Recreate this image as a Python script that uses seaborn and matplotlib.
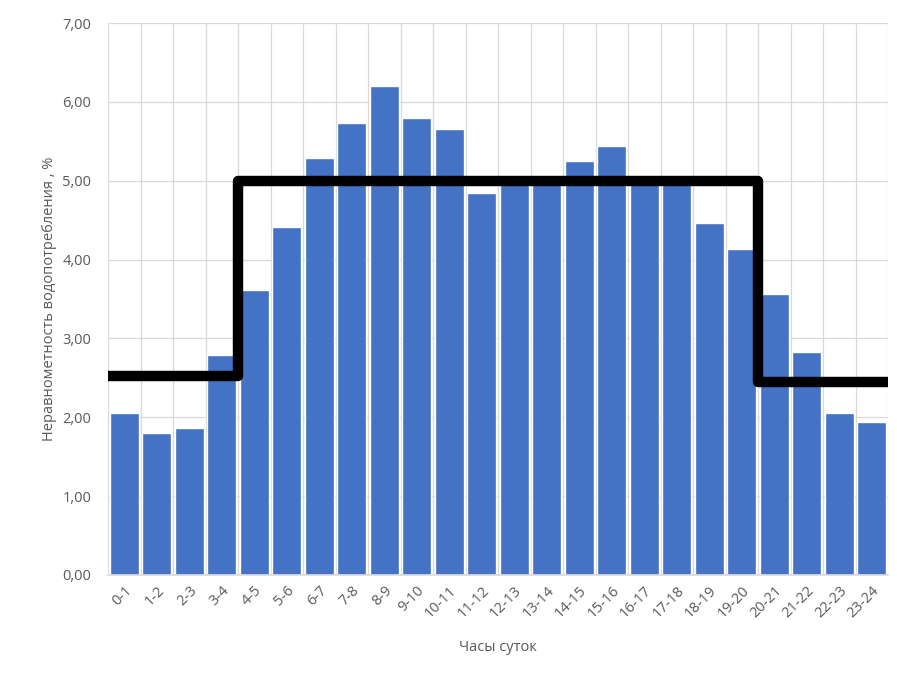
import matplotlib
matplotlib.use("Agg")
import matplotlib.pyplot as plt
import seaborn as sns
import pandas as pd
import numpy as np
from matplotlib.ticker import FixedLocator, FuncFormatter

hours = ["0-1", "1-2", "2-3", "3-4", "4-5", "5-6", "6-7", "7-8", "8-9", "9-10",
         "10-11", "11-12", "12-13", "13-14", "14-15", "15-16", "16-17", "17-18",
         "18-19", "19-20", "20-21", "21-22", "22-23", "23-24"]
values = [2.05, 1.80, 1.86, 2.79, 3.61, 4.41, 5.29, 5.73, 6.20, 5.79,
          5.65, 4.84, 5.00, 5.00, 5.25, 5.44, 5.00, 5.00, 4.47, 4.14,
          3.56, 2.83, 2.05, 1.94]
step_hours = [0, 4, 20, 24]
step_levels = [2.52, 5.00, 2.45]

sns.set_theme(style="white")
plt.rcParams['font.family'] = ['Open Sans', 'DejaVu Sans']

fig = plt.figure(figsize=(8.97, 6.78), dpi=100)
ax = fig.add_axes([0.1204, 0.152, 0.8696, 0.814])

df = pd.DataFrame({"hour": hours, "value": values})
sns.barplot(data=df, x="hour", y="value", color="#4472C4", saturation=1,
            width=0.9, ax=ax, zorder=2)

# step line (hour h -> category boundary h-0.5)
xs = [h - 0.5 for h in step_hours]
ys = step_levels + [step_levels[-1]]
ax.step(xs, ys, where="post", color="black", lw=7.5, zorder=3,
        solid_capstyle="round", solid_joinstyle="round")

ax.set_xlim(-0.5, len(hours) - 0.5)
ax.set_ylim(0, 7)
ax.yaxis.set_major_locator(FixedLocator(np.arange(0, 8, 1)))
ax.yaxis.set_major_formatter(FuncFormatter(lambda v, p: f"{v:.2f}".replace(".", ",")))
ax.xaxis.set_minor_locator(FixedLocator(np.arange(-0.5, len(hours), 1)))
ax.grid(True, which="major", axis="y", color="#d9d9d9", lw=0.9, zorder=0)
ax.grid(True, which="minor", axis="x", color="#d9d9d9", lw=0.9, zorder=0)
ax.grid(False, which="major", axis="x")
ax.set_axisbelow(True)

for s in ["top", "right", "left"]:
    ax.spines[s].set_visible(False)
ax.spines["bottom"].set_color("#d9d9d9")

ax.tick_params(axis="both", which="both", length=0, colors="#595959", labelsize=10.5)
ax.tick_params(axis="y", pad=12)
ax.tick_params(axis="x", pad=6)
plt.setp(ax.get_xticklabels(), rotation=45, ha="right", rotation_mode="anchor")

ax.set_xlabel("Часы суток", color="#595959", fontsize=10.5, labelpad=14)
ax.set_ylabel("Неравнометность водопотребления , %", color="#595959", fontsize=10.5, labelpad=4)

fig.savefig("out.png", dpi=100)
